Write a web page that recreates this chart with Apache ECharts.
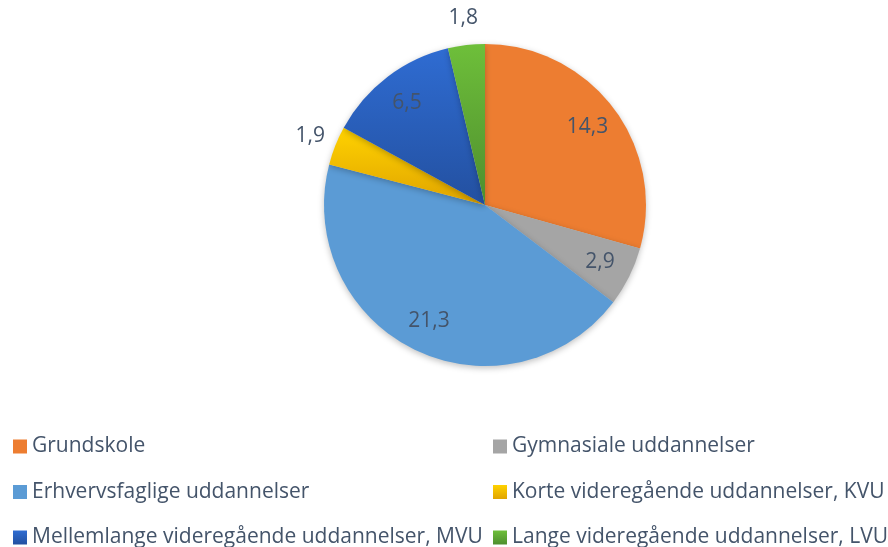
<!DOCTYPE html>
<html>
<head>
<meta charset="utf-8">
<script src="https://cdn.jsdelivr.net/npm/echarts@6/dist/echarts.min.js"></script>
<style>
  html, body { margin: 0; padding: 0; background: #fff; }
  #main { width: 888px; height: 547px; }
</style>
</head>
<body>
<div id="main"></div>
<script>
// data
var categories = [
  'Grundskole',
  'Gymnasiale uddannelser',
  'Erhvervsfaglige uddannelser',
  'Korte videregående uddannelser, KVU',
  'Mellemlange videregående uddannelser, MVU',
  'Lange videregående uddannelser, LVU'
];
var values = [14.3, 2.9, 21.3, 1.9, 6.5, 1.8];
// which labels Excel put outside the pie
var outsideLabel = [false, false, false, true, false, true];

var textColor = '#44546A';
var fontFam = '"Open Sans", "Noto Sans", sans-serif';

function grad(top, bottom) {
  return new echarts.graphic.LinearGradient(0, 0, 0, 1, [
    { offset: 0, color: top },
    { offset: 1, color: bottom }
  ]);
}
var colors = [
  '#ED7D31',
  '#A5A5A5',
  '#5B9BD5',
  grad('#FFD200', '#E0A400'),
  grad('#2F6CD2', '#2350A0'),
  grad('#6EBF3A', '#4E8E2E')
];

function fmt(p) {
  return p.value.toFixed(1).replace('.', ',');
}

var center = [485, 205];
var R = 161;

var mainData = [], innerLabels = [], outerLabels = [];
for (var i = 0; i < categories.length; i++) {
  mainData.push({ name: categories[i], value: values[i], itemStyle: { color: colors[i] } });
  innerLabels.push({ name: categories[i], value: values[i], label: { show: !outsideLabel[i] } });
  outerLabels.push({ name: categories[i], value: values[i], label: { show: outsideLabel[i] } });
}

var labelStyle = {
  position: 'inside',
  formatter: fmt,
  color: textColor,
  fontFamily: fontFam,
  fontSize: 21
};

function legendCol(left, names) {
  return {
    orient: 'vertical',
    left: left,
    top: 436,
    height: 140,
    padding: 0,
    itemGap: 24.5,
    itemWidth: 14,
    itemHeight: 14,
    icon: 'rect',
    selectedMode: false,
    data: names,
    textStyle: { color: textColor, fontFamily: fontFam, fontSize: 21, lineHeight: 20 }
  };
}

var myChart = echarts.init(document.getElementById('main'));
var option = {
  animation: false,
  legend: [
    legendCol(13, [categories[0], categories[2], categories[4]]),
    legendCol(493, [categories[1], categories[3], categories[5]])
  ],
  series: [
    // main slices
    {
      type: 'pie',
      center: center,
      radius: [0, R],
      startAngle: 90,
      clockwise: true,
      label: { show: false },
      labelLine: { show: false },
      itemStyle: {
        borderWidth: 0,
        shadowBlur: 6,
        shadowColor: 'rgba(0,0,0,0.25)',
        shadowOffsetY: 2
      },
      emphasis: { disabled: true },
      data: mainData
    },
    // labels placed inside the slices
    {
      type: 'pie',
      center: center,
      radius: [90, R],
      startAngle: 90,
      silent: true,
      itemStyle: { color: 'transparent' },
      label: labelStyle,
      labelLine: { show: false },
      emphasis: { disabled: true },
      data: innerLabels
    },
    // labels just outside the small slices
    {
      type: 'pie',
      center: center,
      radius: [R, 209],
      startAngle: 90,
      silent: true,
      itemStyle: { color: 'transparent' },
      label: labelStyle,
      labelLine: { show: false },
      emphasis: { disabled: true },
      data: outerLabels
    }
  ]
};
myChart.setOption(option);
</script>
</body>
</html>
